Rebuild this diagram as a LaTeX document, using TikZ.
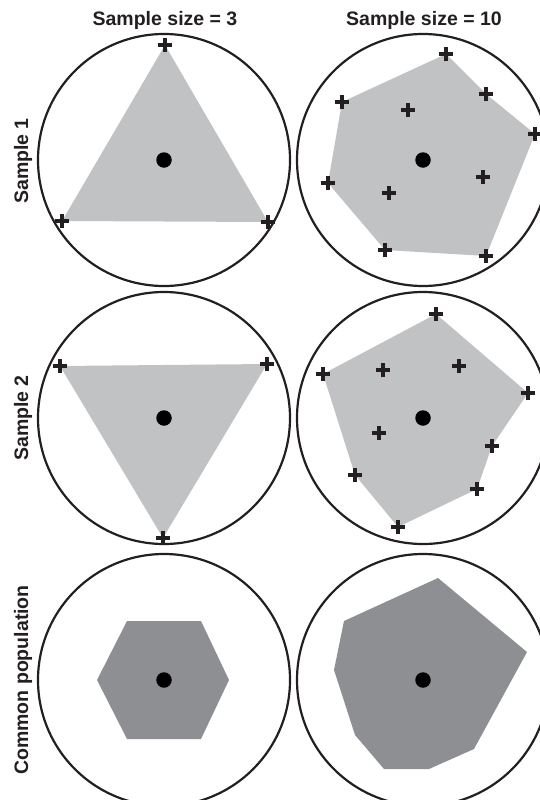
\documentclass[tikz,border=0pt]{standalone}
\usepackage{fontspec}
\setmainfont{Liberation Sans}
\usepackage{xcolor}
\usepackage{tikz}
\usetikzlibrary{calc,positioning}
\definecolor{inkx}{HTML}{231F20}
\definecolor{lightx}{HTML}{C1C2C4}
\definecolor{darkx}{HTML}{8E8F93}
\tikzset{
  rg/.style={draw=inkx,line width=2.2pt},
  ct/.style={circle,fill=black,minimum size=15.5pt,inner sep=0pt},
  hl/.style={fill=lightx},
  pp/.style={fill=darkx},
  lb/.style={font=\fontsize{19.5}{22}\selectfont\bfseries,inner sep=0pt,text=inkx},
  pl/.pic={\draw[inkx,line width=3.6pt] (-7.3pt,0)--(7.3pt,0) (0,-7.3pt)--(0,7.3pt);}
}

\begin{document}
\begin{tikzpicture}[x=1pt,y=-1pt]
\useasboundingbox (0,0) rectangle (540,800);
% shaded hulls
\fill[hl] (165,45)--(268,222)--(62,221)--cycle;
\fill[hl] (446,54)--(486,94)--(535,134)--(486,256)--(385,250)--(328,183)--(342,102)--cycle;
\fill[hl] (60,366)--(267,364)--(163,538)--cycle;
\fill[hl] (436,314)--(528,393)--(492,446)--(477,489)--(398,527)--(355,475)--(323,374)--cycle;
\fill[pp] (127,621)--(201,621)--(229,680)--(201,739)--(127,739)--(97,680)--cycle;
\fill[pp] (438,578)--(527,652)--(474,749)--(429,769)--(384,769)--(355,735)--(334,670)--(344,621)--cycle;
% rings and means
\foreach \n/\x/\y in {a/164/160,b/423/160,c/164/418,d/423/418,e/164/680,f/423/680}{
  \coordinate (o\n) at (\x,\y);
  \draw[rg] (o\n) circle[radius=126pt];
  \node[ct] (m\n) at (o\n) {};
}
% sample points
\foreach \p in {(165,45),(62,221),(268,222),
  (446,54),(486,94),(342,102),(408,110),(535,134),(483,177),(328,183),(389,193),(385,250),(486,256),
  (60,366),(267,364),(163,538),
  (436,314),(323,374),(383,370),(459,366),(528,393),(379,433),(492,446),(355,475),(477,489),(398,527)}
  \pic at \p {pl};
% labels
\node[lb,anchor=base] (t3) at (165,26) {Sample size = 3};
\node[lb,anchor=base] (t10) at (424,26) {Sample size = 10};
\node[lb,anchor=base,rotate=90] (s1) at (28,161) {Sample 1};
\node[lb,anchor=base,rotate=90] (s2) at (28,418) {Sample 2};
\node[lb,anchor=base,rotate=90] (cp) at (28,680) {Common population};
\end{tikzpicture}
\end{document}
